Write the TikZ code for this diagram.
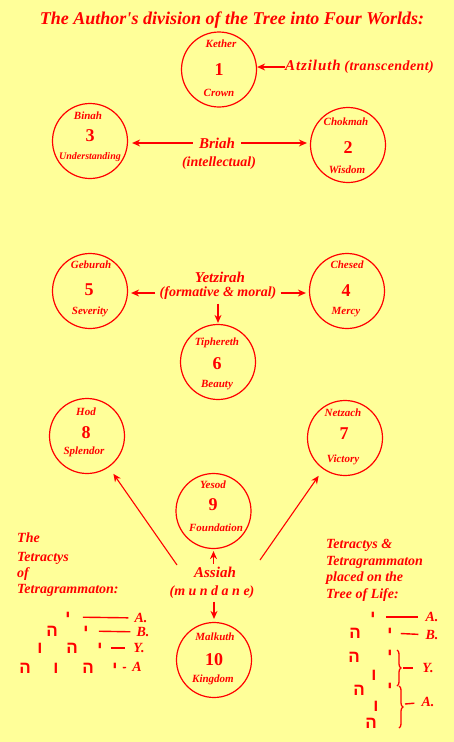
\documentclass[tikz,border=0pt]{standalone}
\usepackage{fontspec}
\usetikzlibrary{arrows.meta,calc,decorations.pathreplacing}
\newfontfamily\hand{Liberation Serif}
\newfontfamily\hebfont[Script=Hebrew]{Liberation Sans}
\TeXXeTstate=1
\definecolor{bg}{HTML}{FFFF99}
\definecolor{ink}{HTML}{FF0000}
\tikzset{
  sep/.style={circle, draw=ink, line width=1.2pt, minimum size=75pt, inner sep=0pt},
  nm/.style={text=ink, font=\hand\itshape\bfseries\fontsize{11}{12}\selectfont, inner sep=0pt},
  num/.style={text=ink, font=\hand\bfseries\fontsize{18}{19}\selectfont, inner sep=0pt},
  lbl/.style={text=ink, font=\hand\itshape\bfseries\fontsize{15}{16}\selectfont, inner sep=0pt},
  small/.style={text=ink, font=\hand\itshape\bfseries\fontsize{14}{15}\selectfont, inner sep=0pt},
  ttl/.style={text=ink, font=\hand\itshape\bfseries\fontsize{18}{19}\selectfont, inner sep=0pt},
  blk/.style={text=ink, font=\hand\itshape\bfseries\fontsize{14}{15}\selectfont, inner sep=0pt, anchor=west},
  arr/.style={draw=ink, line width=1.1pt, -{Stealth[length=8pt,width=7pt]}},
  heb/.style={text=ink, font=\hebfont\bfseries\fontsize{17}{18}\selectfont, inner sep=0pt},
  ln/.style={draw=ink, line width=1.4pt},
  brc/.style={draw=ink, line width=1.3pt, decorate, decoration={brace, amplitude=4pt}},
}
\newcommand\hb[1]{\beginR #1\endR}
\begin{document}
\begin{tikzpicture}[x=1pt, y=-1pt]
\useasboundingbox (0,0) rectangle (454,742);
\fill[bg] (0,0) rectangle (454,742);

% title
\node[ttl] (title) at (232,20) {The Author's division of the Tree into Four Worlds:};

% Sephiroth
\node[sep] (k1) at (219,69.5) {};
\node[nm] (k1t) at (221,44) {Kether};
\node[num] (k1n) at (219,70) {1};
\node[nm] (k1b) at (219,93) {Crown};

\node[sep] (k3) at (90,141) {};
\node[nm] (k3t) at (88,116) {Binah};
\node[num] (k3n) at (90,136) {3};
\node[nm, font=\hand\itshape\bfseries\fontsize{10}{11}\selectfont] (k3b) at (90,157) {Understanding};

\node[sep] (k2) at (348,145) {};
\node[nm] (k2t) at (346,122) {Chokmah};
\node[num] (k2n) at (348,148) {2};
\node[nm] (k2b) at (347,170) {Wisdom};

\node[sep] (k5) at (90,291) {};
\node[nm] (k5t) at (91,265) {Geburah};
\node[num] (k5n) at (89,290) {5};
\node[nm] (k5b) at (90,312) {Severity};

\node[sep] (k4) at (347,291) {};
\node[nm] (k4t) at (347,265) {Chesed};
\node[num] (k4n) at (346,291) {4};
\node[nm] (k4b) at (346,312) {Mercy};

\node[sep] (k6) at (218,362) {};
\node[nm] (k6t) at (217,343) {Tiphereth};
\node[num] (k6n) at (217,364) {6};
\node[nm] (k6b) at (217,385) {Beauty};

\node[sep] (k8) at (87,436) {};
\node[nm] (k8t) at (86,412) {Hod};
\node[num] (k8n) at (86,433) {8};
\node[nm] (k8b) at (84,452) {Splendor};

\node[sep] (k7) at (345,438) {};
\node[nm] (k7t) at (343,413) {Netzach};
\node[num] (k7n) at (344,434) {7};
\node[nm] (k7b) at (343,460) {Victory};

\node[sep] (k9) at (213.5,511) {};
\node[nm] (k9t) at (213,485) {Yesod};
\node[num] (k9n) at (213,505) {9};
\node[nm] (k9b) at (216,528) {Foundation};

\node[sep] (k10) at (214,660) {};
\node[nm] (k10t) at (215,637) {Malkuth};
\node[num] (k10n) at (214,660) {10};
\node[nm] (k10b) at (213,680) {Kingdom};

% Worlds
\node[lbl, anchor=west] (atz) at (285,67) {{\addfontfeature{LetterSpace=6}Atziluth} {\fontsize{14}{15}\selectfont\addfontfeature{LetterSpace=3}(transcendent)}};
\draw[arr] (atz.west) -- (k1.east |- atz.west);

\node[lbl] (briah) at (217,143) {Briah};
\node[small] (intel) at (219,163) {(intellectual)};
\draw[arr, shorten >=4pt] ([xshift=-6pt]briah.west) -- (k3.east |- briah.west);
\draw[arr, shorten >=3pt] ([xshift=6pt]briah.east) -- (k2.west |- briah.east);

\node[lbl] (yetz) at (220,277) {Yetzirah};
\node[small] (form) at (218,293) {(formative \& moral)};
\draw[arr, shorten >=3pt] ([xshift=-4pt]form.west) -- (k5.east |- form.west);
\draw[arr, shorten >=3pt] ([xshift=4pt]form.east) -- (k4.west |- form.east);
\draw[arr, shorten <=4pt, shorten >=1pt] (form.south -| k6) -- (k6.north);

\node[lbl] (assiah) at (215,572) {Assiah};
\node[small] (mund) at (212,592) {(m u n d a n e)};
\draw[arr, shorten <=3pt, shorten >=2pt] (assiah.north -| k9) -- (k9.south);
\draw[arr, shorten <=3pt, shorten >=3pt] (mund.south -| k10) -- (k10.north);
\coordinate (dl) at (177,565);
\coordinate (dr) at (260,560);
\draw[arr, shorten >=8pt] (dl) -- (k8);
\draw[arr, shorten >=8pt] (dr) -- (k7);

% left block
\node[blk] (lb1) at (17,538) {The};
\node[blk] (lb2) at (17,558) {Tetractys};
\node[blk] (lb3) at (17,574) {of};
\node[blk] (lb4) at (17,590) {Tetragrammaton:};

\node[heb] (l1y) at (68,617) {\hb{י}};
\node[small] (l1a) at (141,618) {A.};
\draw[ln, shorten <=12pt, shorten >=6pt] (l1y) -- (l1a);

\node[heb] (l2h) at (52,631) {\hb{ה}};
\node[heb] (l2y) at (86,631) {\hb{י}};
\node[small] (l2b) at (143,632) {B.};
\draw[ln, shorten <=10pt, shorten >=6pt] (l2y) -- (l2b);

\node[heb] (l3v) at (40,648) {\hb{ו}};
\node[heb] (l3h) at (72,648) {\hb{ה}};
\node[heb] (l3y) at (100,648) {\hb{י}};
\node[small] (l3g) at (139,648) {Y.};
\draw[ln, shorten <=8pt, shorten >=8pt] (l3y) -- (l3g);

\node[heb] (l4h) at (25,668) {\hb{ה}};
\node[heb] (l4v) at (56,668) {\hb{ו}};
\node[heb] (l4h2) at (88,668) {\hb{ה}};
\node[heb] (l4y) at (115,668) {\hb{י}};
\node[small] (l4a) at (137,667) {A};
\draw[ln, shorten <=5pt, shorten >=6pt] (l4y) -- (l4a);

% right block
\node[blk] (rb1) at (326,545) {Tetractys \&};
\node[blk] (rb2) at (326,562) {Tetragrammaton};
\node[blk] (rb3) at (326,578) {placed on the};
\node[blk] (rb4) at (326,595) {Tree of Life:};

\node[heb] (r1y) at (373,617) {\hb{י}};
\node[small] (r1a) at (432,617) {A.};
\draw[ln, shorten <=10pt, shorten >=7pt] (r1y) -- (r1a);

\node[heb] (r2h) at (355,633) {\hb{ה}};
\node[heb] (r2y) at (390,633) {\hb{י}};
\node[small] (r2b) at (432,635) {B.};
\draw[ln, shorten <=8pt, shorten >=7pt] (r2y) -- (r2b);

\node[heb] (r3h) at (354,657) {\hb{ה}};
\node[heb] (r3y) at (390,655) {\hb{י}};
\node[heb] (r3v) at (374,675) {\hb{ו}};
\coordinate (r3bt) at (397,650);
\coordinate (r3bb) at (397,686);
\draw[brc] (r3bt) -- (r3bb);
\node[small] (r3g) at (428,668) {Y.};
\coordinate (r3d) at (403,668);
\draw[ln, shorten >=9pt] (r3d) -- (r3g);

\node[heb] (r4h) at (359,690) {\hb{ה}};
\node[heb] (r4y) at (390,688) {\hb{י}};
\node[heb] (r4v) at (376,706) {\hb{ו}};
\node[heb] (r4h2) at (371,723) {\hb{ה}};
\coordinate (r4bt) at (399,686);
\coordinate (r4bb) at (399,728);
\draw[brc] (r4bt) -- (r4bb);
\node[small] (r4a) at (428,702) {A.};
\coordinate (r4d) at (405,704);
\draw[ln, shorten >=7pt] (r4d) -- (r4a);
\end{tikzpicture}
\end{document}
